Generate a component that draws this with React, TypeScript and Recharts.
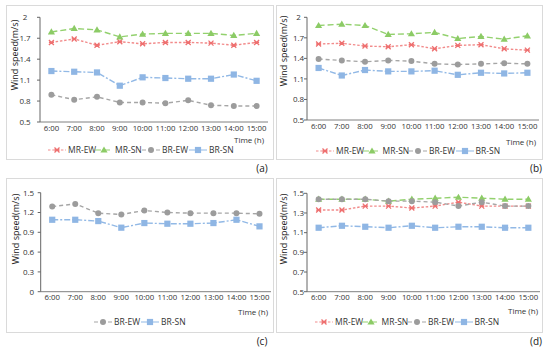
import React from 'react';
import { LineChart, Line, XAxis, YAxis } from 'recharts';

const times = ['6:00', '7:00', '8:00', '9:00', '10:00', '11:00', '12:00', '13:00', '14:00', '15:00'];

// Panel (a)
const aMREW = [1.64, 1.69, 1.6, 1.65, 1.62, 1.64, 1.64, 1.63, 1.6, 1.64];
const aMRSN = [1.79, 1.84, 1.82, 1.72, 1.76, 1.77, 1.77, 1.77, 1.74, 1.77];
const aBREW = [0.89, 0.82, 0.86, 0.78, 0.78, 0.77, 0.81, 0.74, 0.73, 0.73];
const aBRSN = [1.23, 1.22, 1.21, 1.02, 1.14, 1.13, 1.12, 1.12, 1.18, 1.09];
const aTicks = [0.5, 0.8, 1.1, 1.4, 1.7, 2];

// Panel (b)
const bMREW = [1.61, 1.62, 1.58, 1.57, 1.6, 1.54, 1.59, 1.6, 1.54, 1.52];
const bMRSN = [1.88, 1.9, 1.88, 1.75, 1.76, 1.78, 1.69, 1.72, 1.68, 1.73];
const bBREW = [1.39, 1.37, 1.35, 1.37, 1.36, 1.32, 1.31, 1.32, 1.33, 1.32];
const bBRSN = [1.26, 1.15, 1.23, 1.21, 1.21, 1.22, 1.16, 1.19, 1.18, 1.19];
const bTicks = [0.5, 0.8, 1.1, 1.4, 1.7, 2];

// Panel (c)
const cBREW = [1.29, 1.33, 1.19, 1.17, 1.23, 1.2, 1.19, 1.19, 1.19, 1.18];
const cBRSN = [1.09, 1.09, 1.07, 0.97, 1.04, 1.03, 1.03, 1.04, 1.09, 0.99];
const cTicks = [0, 0.3, 0.6, 0.9, 1.2, 1.5];

// Panel (d)
const dMREW = [1.33, 1.33, 1.37, 1.37, 1.35, 1.37, 1.41, 1.37, 1.37, 1.37];
const dMRSN = [1.44, 1.44, 1.44, 1.42, 1.44, 1.45, 1.46, 1.45, 1.44, 1.44];
const dBREW = [1.44, 1.44, 1.44, 1.42, 1.42, 1.41, 1.37, 1.41, 1.37, 1.37];
const dBRSN = [1.15, 1.17, 1.16, 1.15, 1.17, 1.15, 1.16, 1.16, 1.15, 1.15];
const dTicks = [0.5, 0.7, 0.9, 1.1, 1.3, 1.5];

const FONT = '"Open Sans", "Noto Sans", sans-serif';
const TXT = '#333333';

type Kind = 'x' | 'tri' | 'circle' | 'square';
interface SeriesStyle { name: string; color: string; mark: string; dash: string; kind: Kind; }

const MREW: SeriesStyle = { name: 'MR-EW', color: '#F28B8B', mark: '#EE7070', dash: '2.5 1.8', kind: 'x' };
const MRSN: SeriesStyle = { name: 'MR-SN', color: '#93D16E', mark: '#8CCB66', dash: '6 3', kind: 'tri' };
const BREW: SeriesStyle = { name: 'BR-EW', color: '#A6A6A6', mark: '#9C9C9C', dash: '4 3', kind: 'circle' };
const BRSN: SeriesStyle = { name: 'BR-SN', color: '#92B9E6', mark: '#8FB6E4', dash: '6 2 2 2', kind: 'square' };

function marker(kind: Kind, cx: number, cy: number, color: string, key?: any) {
  if (kind === 'x') {
    const r = 2.5;
    return (
      <path key={key} d={`M${cx - r},${cy - r}L${cx + r},${cy + r}M${cx - r},${cy + r}L${cx + r},${cy - r}M${cx - r},${cy}L${cx + r},${cy}`}
        stroke={color} strokeWidth={1.3} fill="none" />
    );
  }
  if (kind === 'tri') {
    return <path key={key} d={`M${cx},${cy - 3.6}L${cx + 3.6},${cy + 2.6}L${cx - 3.6},${cy + 2.6}Z`} fill={color} />;
  }
  if (kind === 'circle') {
    return <circle key={key} cx={cx} cy={cy} r={3} fill={color} />;
  }
  return <rect key={key} x={cx - 3.1} y={cy - 3.1} width={6.2} height={6.2} fill={color} />;
}

interface SeriesDef { key: string; style: SeriesStyle; values: number[]; }

interface PanelProps {
  box: { x: number; y: number; w: number; h: number };
  axisX: number; plotRight: number; plotTop: number; plotBottom: number;
  domain: [number, number]; ticks: number[]; anchor: 'middle' | 'end'; tickOffset: number;
  series: SeriesDef[];
  yLabel: { x: number; y: number };
  timeLabel: { right: number; y: number };
  legend: { left: number; y: number; step: number };
  caption: { text: string; x: number; y: number };
}

function Panel(p: PanelProps) {
  const data = times.map((t, i) => {
    const row: any = { time: t };
    p.series.forEach((s) => { row[s.key] = s.values[i]; });
    return row;
  });
  const xH = 12;
  const yW = p.axisX - p.box.x;
  const plotW = p.plotRight - p.axisX;
  const pad = plotW / 20;
  const margin = {
    top: p.plotTop - p.box.y,
    right: p.box.x + p.box.w - p.plotRight,
    left: 0,
    bottom: p.box.y + p.box.h - p.plotBottom - xH,
  };
  const YTick = (props: any) => {
    const { x, y, payload } = props;
    const tx = x + 3 - p.tickOffset;
    return (
      <text x={tx} y={y} dy="0.35em" textAnchor={p.anchor} fontSize={8} fill={TXT} fontFamily={FONT}>
        {String(payload.value)}
      </text>
    );
  };
  return (
    <>
      <div style={{ position: 'absolute', left: p.box.x, top: p.box.y, width: p.box.w, height: p.box.h, border: '1px solid #DADADA', boxSizing: 'border-box' }} />
      <div style={{ position: 'absolute', left: p.yLabel.x - 60, top: p.yLabel.y - 6, width: 120, height: 12, lineHeight: '12px', textAlign: 'center', transform: 'rotate(-90deg)', fontSize: 9, color: '#222222', fontFamily: FONT, whiteSpace: 'nowrap' }}>
        Wind speed(m/s)
      </div>
      <div style={{ position: 'absolute', left: p.box.x, top: p.box.y }}>
        <LineChart width={p.box.w} height={p.box.h} data={data} margin={margin}>
          <XAxis dataKey="time" height={xH} interval={0} tickLine={false} tickSize={0} tickMargin={3}
            padding={{ left: pad, right: pad }}
            axisLine={{ stroke: '#808080', strokeWidth: 1 }}
            tick={{ fontSize: 7.8, fill: TXT, fontFamily: FONT }} />
          <YAxis type="number" width={yW} domain={p.domain} ticks={p.ticks} allowDataOverflow interval={0}
            tickSize={3} tickMargin={0} axisLine={{ stroke: '#666666' }} tickLine={{ stroke: '#666666' }}
            tick={<YTick />} />
          {p.series.map((s) => (
            <Line key={s.key} dataKey={s.key} type="linear" stroke={s.style.color} strokeWidth={1.4}
              strokeDasharray={s.style.dash} isAnimationActive={false}
              dot={(d: any) => marker(s.style.kind, d.cx, d.cy, s.style.mark, `${s.key}-${d.index}`)}
              activeDot={false} />
          ))}
        </LineChart>
      </div>
      <div style={{ position: 'absolute', left: p.timeLabel.right - 60, top: p.timeLabel.y - 6, width: 60, height: 12, lineHeight: '12px', textAlign: 'right', fontSize: 8, color: TXT, fontFamily: FONT, whiteSpace: 'nowrap' }}>
        Time (h)
      </div>
      {p.series.map((s, i) => (
        <div key={s.key} style={{ position: 'absolute', left: p.legend.left + i * p.legend.step, top: p.legend.y - 6, height: 12, display: 'flex', alignItems: 'center', fontSize: 8.5, color: TXT, fontFamily: FONT, whiteSpace: 'nowrap' }}>
          <svg width={18} height={10} style={{ display: 'block' }}>
            <line x1={0} y1={5} x2={18} y2={5} stroke={s.style.color} strokeWidth={1.2} strokeDasharray={s.style.dash} />
            {marker(s.style.kind, 9, 5, s.style.mark)}
          </svg>
          <span style={{ marginLeft: 2, lineHeight: '12px' }}>{s.style.name}</span>
        </div>
      ))}
      <div style={{ position: 'absolute', left: p.caption.x - 15, top: p.caption.y - 7, width: 30, height: 14, lineHeight: '14px', textAlign: 'center', fontSize: 10, color: '#202020', fontFamily: FONT }}>
        {p.caption.text}
      </div>
    </>
  );
}

export default function App() {
  return (
    <div style={{ position: 'absolute', left: 0, top: 0, width: 550, height: 351, background: '#fff', overflow: 'hidden' }}>
      <Panel
        box={{ x: 6, y: 5, w: 268, h: 155 }} axisX={40} plotRight={268} plotTop={17.3} plotBottom={122}
        domain={[0.5, 2]} ticks={aTicks} anchor="middle" tickOffset={15}
        series={[
          { key: 'mrew', style: MREW, values: aMREW },
          { key: 'mrsn', style: MRSN, values: aMRSN },
          { key: 'brew', style: BREW, values: aBREW },
          { key: 'brsn', style: BRSN, values: aBRSN },
        ]}
        yLabel={{ x: 15, y: 55 }} timeLabel={{ right: 264, y: 140 }}
        legend={{ left: 48, y: 150, step: 47 }} caption={{ text: '(a)', x: 262, y: 168 }}
      />
      <Panel
        box={{ x: 276, y: 5, w: 267, h: 155 }} axisX={307} plotRight={539} plotTop={17.3} plotBottom={120}
        domain={[0.5, 2]} ticks={bTicks} anchor="middle" tickOffset={8.5}
        series={[
          { key: 'mrew', style: MREW, values: bMREW },
          { key: 'mrsn', style: MRSN, values: bMRSN },
          { key: 'brew', style: BREW, values: bBREW },
          { key: 'brsn', style: BRSN, values: bBRSN },
        ]}
        yLabel={{ x: 284, y: 51 }} timeLabel={{ right: 536, y: 141.5 }}
        legend={{ left: 316, y: 150.5, step: 46.5 }} caption={{ text: '(b)', x: 536, y: 168 }}
      />
      <Panel
        box={{ x: 6, y: 178, w: 268, h: 155 }} axisX={40.7} plotRight={271} plotTop={192.7} plotBottom={291.7}
        domain={[0, 1.5]} ticks={cTicks} anchor="end" tickOffset={6.5}
        series={[
          { key: 'brew', style: BREW, values: cBREW },
          { key: 'brsn', style: BRSN, values: cBRSN },
        ]}
        yLabel={{ x: 16, y: 229 }} timeLabel={{ right: 268, y: 311.5 }}
        legend={{ left: 94, y: 321.5, step: 47 }} caption={{ text: '(c)', x: 262, y: 341 }}
      />
      <Panel
        box={{ x: 276, y: 178, w: 267, h: 155 }} axisX={307} plotRight={540} plotTop={193.3} plotBottom={291.7}
        domain={[0.5, 1.5]} ticks={dTicks} anchor="end" tickOffset={3}
        series={[
          { key: 'mrew', style: MREW, values: dMREW },
          { key: 'mrsn', style: MRSN, values: dMRSN },
          { key: 'brew', style: BREW, values: dBREW },
          { key: 'brsn', style: BRSN, values: dBRSN },
        ]}
        yLabel={{ x: 284, y: 229 }} timeLabel={{ right: 538, y: 311 }}
        legend={{ left: 315, y: 321.5, step: 46.5 }} caption={{ text: '(d)', x: 536, y: 341 }}
      />
    </div>
  );
}
